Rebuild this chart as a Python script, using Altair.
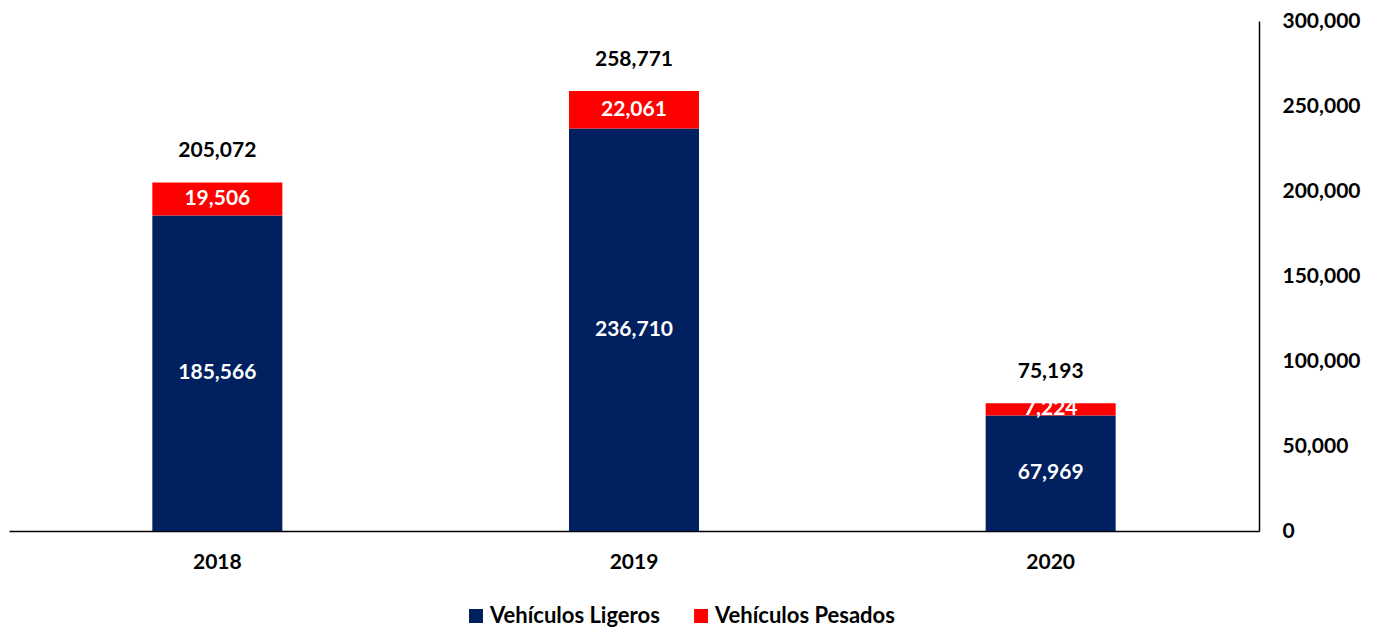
import altair as alt
import pandas as pd

years = ["2018", "2019", "2020"]
ligeros = [185566, 236710, 67969]
pesados = [19506, 22061, 7224]
totals = [205072, 258771, 75193]
series = ["Vehículos Ligeros", "Vehículos Pesados"]
colors = ["#002060", "#FF0000"]
ticks = [0, 50000, 100000, 150000, 200000, 250000, 300000]

rows = []
for i, y in enumerate(years):
    rows.append({"year": y, "serie": series[0], "start": 0, "end": ligeros[i], "value": ligeros[i]})
    rows.append({"year": y, "serie": series[1], "start": ligeros[i], "end": ligeros[i] + pesados[i], "value": pesados[i]})
df = pd.DataFrame(rows)
df["mid"] = (df["start"] + df["end"]) / 2
tot = pd.DataFrame({"year": years, "total": totals})

FONT = "Lato"

xaxis = alt.Axis(labelAngle=0, ticks=False, domainColor="#000000", domainWidth=1.5,
                 labelFont=FONT, labelFontWeight="bold", labelFontSize=21,
                 labelColor="#000000", labelPadding=20)
yaxis = alt.Axis(orient="right", values=ticks, format=",d", ticks=False, grid=False,
                 domainColor="#000000", domainWidth=1.5,
                 labelFont=FONT, labelFontWeight="bold", labelFontSize=21,
                 labelColor="#000000", labelAlign="left", labelPadding=23)
xscale = alt.Scale(domain=years, paddingInner=0, paddingOuter=0)
yscale = alt.Scale(domain=[0, 300000])

bars = alt.Chart(df).mark_bar(size=130).encode(
    x=alt.X("year:N", title=None, scale=xscale, axis=xaxis),
    y=alt.Y("start:Q", title=None, scale=yscale, axis=yaxis),
    y2="end:Q",
    color=alt.Color("serie:N", scale=alt.Scale(domain=series, range=colors),
                    legend=alt.Legend(title=None, orient="none", direction="horizontal",
                                      legendX=456, legendY=584, symbolType="square",
                                      symbolSize=196, symbolStrokeWidth=0,
                                      labelFont=FONT, labelFontWeight="bold", labelFontSize=22,
                                      labelLimit=400,
                                      labelColor="#000000", labelOffset=3, columnPadding=30)),
)

seg_labels = alt.Chart(df).mark_text(font=FONT, fontWeight="bold", fontSize=21, color="white",
                                     baseline="middle").encode(
    x=alt.X("year:N", title=None, scale=xscale, axis=xaxis),
    y=alt.Y("mid:Q", title=None, scale=yscale, axis=yaxis),
    text=alt.Text("value:Q", format=","),
)

tot_labels = alt.Chart(tot).mark_text(font=FONT, fontWeight="bold", fontSize=21, color="black",
                                      baseline="middle", dy=-31).encode(
    x=alt.X("year:N", title=None, scale=xscale, axis=xaxis),
    y=alt.Y("total:Q", title=None, scale=yscale, axis=yaxis),
    text=alt.Text("total:Q", format=","),
)

chart = alt.layer(bars, seg_labels, tot_labels).properties(
    width=1250, height=510,
    background="white",
    autosize=alt.AutoSizeParams(type="none"),
    padding={"left": 1, "top": 13, "right": 110, "bottom": 96},
).configure_view(stroke=None)

chart.save("out.html", embed_options={"renderer": "svg", "actions": False})
